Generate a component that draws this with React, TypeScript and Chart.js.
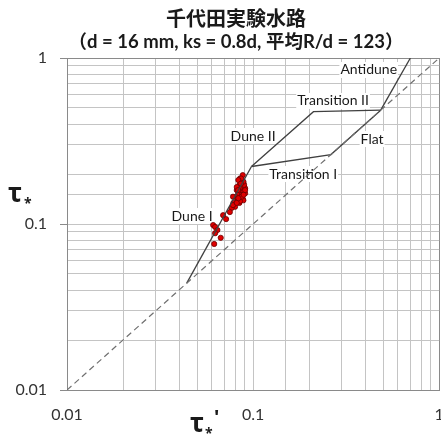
import { useEffect, useRef } from 'react';
import { Chart, registerables } from 'chart.js';

Chart.register(...registerables);

// ---- data ----
const scatterX = [0.088, 0.085, 0.087, 0.0887, 0.0844, 0.087, 0.0898, 0.0817, 0.085, 0.0887, 0.0833, 0.087, 0.081, 0.085, 0.088, 0.0823, 0.0784, 0.0844, 0.08, 0.0767, 0.078, 0.075, 0.069, 0.0716, 0.061, 0.0625, 0.0643, 0.0625, 0.067, 0.0618, 0.0906, 0.0887, 0.0906, 0.0895, 0.0887, 0.0862, 0.087, 0.085, 0.0817, 0.0833, 0.078, 0.0817, 0.0833, 0.0906, 0.089, 0.083, 0.086];
const scatterY = [0.197, 0.188, 0.182, 0.177, 0.172, 0.167, 0.166, 0.16, 0.156, 0.156, 0.153, 0.1495, 0.145, 0.143, 0.1415, 0.137, 0.134, 0.134, 0.127, 0.125, 0.13, 0.118, 0.113, 0.107, 0.0986, 0.096, 0.092, 0.088, 0.0826, 0.0758, 0.153, 0.139, 0.164, 0.172, 0.18, 0.188, 0.146, 0.137, 0.134, 0.143, 0.146, 0.167, 0.184, 0.16, 0.15, 0.16, 0.175];

const duneBoundaryX = [0.044, 0.098];
const duneBoundaryY = [0.044, 0.222];
const upperBoundaryX = [0.098, 0.211, 0.485];
const upperBoundaryY = [0.222, 0.475, 0.485];
const lowerBoundaryX = [0.098, 0.262, 0.485];
const lowerBoundaryY = [0.222, 0.262, 0.485];
const antiduneX = [0.485, 0.7];
const antiduneY = [0.485, 1.0];
const equalityX = [0.01, 1];
const equalityY = [0.01, 1];

const tickValues = [0.01, 0.1, 1];
const tickLabels = ['0.01', '0.1', '1'];

const regionLabels = ['Antidune', 'Transition II', 'Flat', 'Dune II', 'Transition I', 'Dune I'];
const regionLabelX = [0.418, 0.269, 0.436, 0.1, 0.186, 0.047];
const regionLabelY = [0.847, 0.551, 0.325, 0.339, 0.2, 0.1117];

const titleLines = ['千代田実験水路', '（d = 16 mm, ks = 0.8d, 平均R/d = 123）'];

const FONT = "Lato, 'Noto Sans CJK JP', sans-serif";

const zip = (xs: number[], ys: number[]) => xs.map((x, i) => ({ x, y: ys[i] }));

const labelFor = (v: number) => {
  for (let i = 0; i < tickValues.length; i++) {
    if (Math.abs(Math.log10(v) - Math.log10(tickValues[i])) < 1e-6) return tickLabels[i];
  }
  return '';
};

const isMajor = (v: number) => labelFor(v) !== '';

const overlayPlugin = {
  id: 'overlay',
  beforeDatasetsDraw(chart: any) {
    const ctx = chart.ctx as CanvasRenderingContext2D;
    const xs = chart.scales.x;
    const ys = chart.scales.y;
    ctx.save();
    ctx.font = `14px ${FONT}`;
    ctx.textAlign = 'center';
    ctx.textBaseline = 'middle';
    regionLabels.forEach((t, i) => {
      const px = xs.getPixelForValue(regionLabelX[i]);
      const py = ys.getPixelForValue(regionLabelY[i]);
      const w = ctx.measureText(t).width;
      ctx.fillStyle = '#ffffff';
      ctx.fillRect(px - w / 2 - 1, py - 8, w + 2, 16);
      ctx.fillStyle = '#1a1a1a';
      ctx.fillText(t, px, py);
    });
    ctx.restore();
  },
  afterDraw(chart: any) {
    const ctx = chart.ctx as CanvasRenderingContext2D;
    const xs = chart.scales.x;
    ctx.save();
    ctx.fillStyle = '#333333';
    ctx.textAlign = 'center';
    ctx.textBaseline = 'middle';
    ctx.font = `16px ${FONT}`;
    tickValues.forEach((v, i) => {
      ctx.fillText(tickLabels[i], xs.getPixelForValue(v), chart.chartArea.bottom + 25);
    });

    ctx.fillStyle = '#1a1a1a';
    ctx.font = `bold 20px ${FONT}`;
    ctx.fillText(titleLines[0], 236, 20);
    ctx.font = `bold 18.5px ${FONT}`;
    ctx.fillText(titleLines[1], 236, 42);

    // y axis title: tau*
    ctx.textAlign = 'left';
    ctx.textBaseline = 'alphabetic';
    ctx.font = "bold 26px 'Noto Sans', sans-serif";
    ctx.fillText('τ', 8, 202);
    ctx.font = "bold 14px 'Noto Sans', sans-serif";
    ctx.fillText('*', 24, 208);

    // x axis title: tau*'
    ctx.font = "bold 26px 'Noto Sans', sans-serif";
    ctx.fillText('τ', 190, 432);
    ctx.font = "bold 14px 'Noto Sans', sans-serif";
    ctx.fillText('*', 205, 438);
    ctx.font = "bold 20px 'Noto Sans', sans-serif";
    ctx.fillText("'", 214, 424);
    ctx.restore();
  },
};

export default function App() {
  const ref = useRef<HTMLCanvasElement | null>(null);

  useEffect(() => {
    if (!ref.current) return;
    const lineStyle = {
      type: 'scatter' as const,
      showLine: true,
      borderColor: '#404040',
      borderWidth: 1.3,
      pointRadius: 0,
      fill: false,
    };
    const chart = new Chart(ref.current, {
      type: 'scatter',
      data: {
        datasets: [
          {
            ...lineStyle,
            data: zip(equalityX, equalityY),
            borderColor: '#707070',
            borderDash: [6, 4],
            borderWidth: 1.2,
          },
          { ...lineStyle, data: zip(duneBoundaryX, duneBoundaryY) },
          { ...lineStyle, data: zip(upperBoundaryX, upperBoundaryY) },
          { ...lineStyle, data: zip(lowerBoundaryX, lowerBoundaryY) },
          { ...lineStyle, data: zip(antiduneX, antiduneY) },
          {
            type: 'scatter',
            data: zip(scatterX, scatterY),
            backgroundColor: '#e00000',
            borderColor: '#6a0000',
            borderWidth: 0.8,
            pointRadius: 2.6,
          },
        ],
      },
      options: {
        animation: false,
        responsive: true,
        maintainAspectRatio: false,
        layout: { padding: { top: 58, right: 2, left: 0, bottom: 0 } },
        plugins: {
          legend: { display: false },
          tooltip: { enabled: false },
          title: { display: false },
        },
        scales: {
          x: {
            type: 'logarithmic',
            min: 0.01,
            max: 1,
            afterFit(scale: any) {
              scale.height = 46;
            },
            border: { display: true, color: '#8a8a8a', width: 1 },
            grid: {
              color: (c: any) => (c.tick && (c.tick.value >= 0.9999 || c.tick.value <= 0.01001) ? '#8a8a8a' : '#c4c4c4'),
              lineWidth: 1,
              drawTicks: false,
            },
            ticks: {
              display: false,
              autoSkip: false,
            },
          },
          y: {
            type: 'logarithmic',
            min: 0.01,
            max: 1,
            afterFit(scale: any) {
              scale.width = 67;
              scale.paddingTop = 0;
              scale.paddingBottom = 0;
            },
            border: { display: true, color: '#8a8a8a', width: 1 },
            grid: {
              color: (c: any) => (c.tick && (c.tick.value >= 0.9999 || c.tick.value <= 0.01001) ? '#8a8a8a' : '#c4c4c4'),
              lineWidth: 1,
              drawTicks: true,
              tickLength: 7,
              tickColor: (c: any) => (c.tick && isMajor(c.tick.value) ? '#8a8a8a' : 'rgba(0,0,0,0)'),
            },
            ticks: {
              autoSkip: false,
              padding: 13,
              color: '#333333',
              font: { family: FONT, size: 16 },
              callback: (v: any) => labelFor(Number(v)),
            },
          },
        },
      },
      plugins: [overlayPlugin],
    } as any);
    return () => chart.destroy();
  }, []);

  return (
    <div style={{ position: 'fixed', left: 0, top: 0, width: 441, height: 436, overflow: 'hidden', background: '#fff' }}>
      <div style={{ position: 'absolute', left: 0, top: 0, width: 444, height: 436 }}>
        <canvas ref={ref} />
      </div>
    </div>
  );
}
